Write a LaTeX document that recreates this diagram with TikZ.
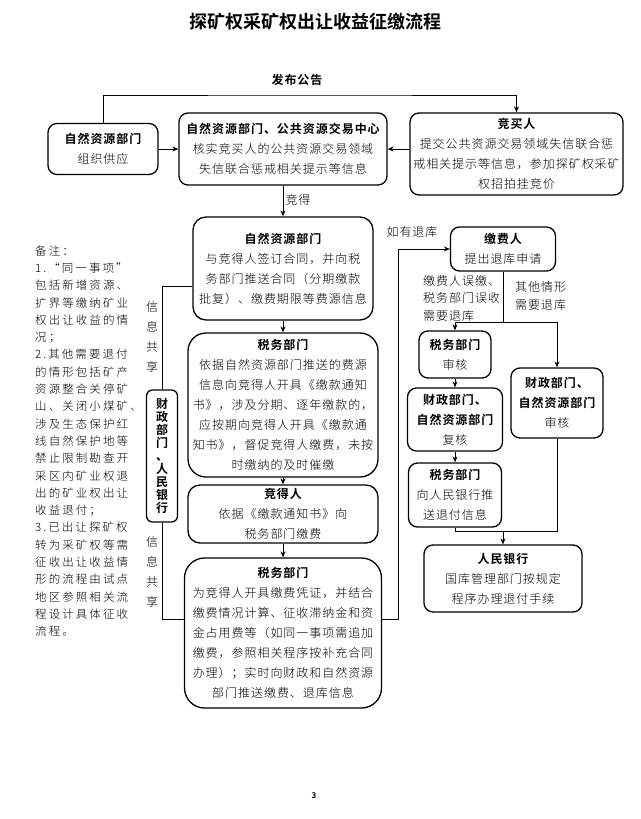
\documentclass[tikz,border=0pt]{standalone}
\usepackage{fontspec}
\setmainfont{Noto Sans CJK SC}[UprightFont={* Light}, BoldFont={* Bold}]
\usetikzlibrary{arrows.meta}

\begin{document}
\begin{tikzpicture}
        [x=1pt, y=-1pt, every node/.style={inner sep=0, align=center, font=\fontsize{12}{20}\selectfont\addfontfeatures{LetterSpace=8}},
         box/.style={draw, rounded corners=9pt, line width=1.3pt},
         conn/.style={line width=1pt, black},
         arr/.style={-{Stealth[length=6pt,width=5pt]}}]

        \useasboundingbox (0,0) rectangle (640,819);

        \node[font=\fontsize{18}{22}\selectfont\bfseries] (title) at (315,22) {探矿权采矿权出让收益征缴流程};
        \node (pub) at (297,80) {\bfseries 发布公告};

        \node[box, minimum width=110, minimum height=51] (supply) at (103,149) {{\bfseries 自然资源部门}\\组织供应};
        \node[box, minimum width=208, minimum height=72] (verify) at (283,149) {{\bfseries 自然资源部门、公共资源交易中心}\\核实竞买人的公共资源交易领域\\失信联合惩戒相关提示等信息};
        \node[box, minimum width=213, minimum height=82] (bidder) at (516.5,154) {{\bfseries 竞买人}\\提交公共资源交易领域失信联合惩\\戒相关提示等信息，参加探矿权采矿\\权招拍挂竞价};
        \node[box, rounded corners=13pt, minimum width=180, minimum height=103] (contract) at (283,268.5) {{\bfseries 自然资源部门}\\与竞得人签订合同，并向税\\务部门推送合同（分期缴款\\批复）、缴费期限等费源信息};
        \node[box, rounded corners=18pt, minimum width=190, minimum height=144] (notice) at (283,405) {{\bfseries 税务部门}\\依据自然资源部门推送的费源\\信息向竞得人开具《缴款通知\\书》，涉及分期、逐年缴款的，\\应按期向竞得人开具《缴款通\\知书》，督促竞得人缴费，未按\\时缴纳的及时催缴};
        \node[box, rounded corners=12pt, minimum width=190, minimum height=58] (winner) at (283,514) {{\bfseries 竞得人}\\依据《缴款通知书》向\\税务部门缴费};
        \node[box, rounded corners=20pt, minimum width=197, minimum height=150] (collect) at (283,633) {{\bfseries 税务部门}\\为竞得人开具缴费凭证，并结合\\缴费情况计算、征收滞纳金和资\\金占用费等（如同一事项需追加\\缴费，参照相关程序按补充合同\\办理）；实时向财政和自然资源\\部门推送缴费、退库信息};
        \node[box, rounded corners=6pt, minimum width=31, minimum height=132, font=\fontsize{12}{13}\selectfont\bfseries] (finbank) at (162,456) {财\\政\\部\\门\\、\\人\\民\\银\\行};

        \node[box, minimum width=105, minimum height=44] (applicant) at (503,249) {{\bfseries 缴费人}\\提出退库申请};
        \node[box, minimum width=72, minimum height=47] (taxaudit) at (455,354.5) {{\bfseries 税务部门}\\审核};
        \node[box, minimum width=95, minimum height=63] (recheck) at (455,419.5) {{\bfseries 财政部门、}\\{\bfseries 自然资源部门}\\复核};
        \node[box, minimum width=92, minimum height=70] (finaudit) at (557,403) {{\bfseries 财政部门、}\\{\bfseries 自然资源部门}\\审核};
        \node[box, minimum width=93, minimum height=64] (push) at (455,495) {{\bfseries 税务部门}\\向人民银行推\\送退付信息};
        \node[box, minimum width=158, minimum height=67] (pbc) at (503,578.5) {{\bfseries 人民银行}\\国库管理部门按规定\\程序办理退付手续};

        \node (won) at (298,200) {竞得};
        \node (share1) at (152,337) {信\\息\\共\\享};
        \node (share2) at (152,572) {信\\息\\共\\享};
        \node (refund) at (412,232) {如有退库};
        \node[anchor=west, align=left, font=\fontsize{12}{17.5}\selectfont\addfontfeatures{LetterSpace=8}] (wrong) at (423,298) {缴费人误缴、\\税务部门误收\\需要退库};
        \node[anchor=west, align=left, font=\fontsize{12}{18}\selectfont\addfontfeatures{LetterSpace=8}] (other) at (515,296) {其他情形\\需要退库};
        \node[anchor=west, align=left, font=\fontsize{11.5}{17.3}\selectfont\addfontfeatures{LetterSpace=18}] (notes) at (35,441) {备注：\\1.“同一事项”\\包括新增资源、\\扩界等缴纳矿业\\权出让收益的情\\况；\\2.其他需要退付\\的情形包括矿产\\资源整合关停矿\\山、关闭小煤矿、\\涉及生态保护红\\线自然保护地等\\禁止限制勘查开\\采区内矿业权退\\出的矿业权出让\\收益退付；\\3.已出让探矿权\\转为采矿权等需\\征收出让收益情\\形的流程由试点\\地区参照相关流\\程设计具体征收\\流程。};
        \node[font=\fontsize{8}{10}\selectfont\bfseries] (page) at (314,796) {3};

        \coordinate (top) at (310,95);
        \coordinate (back) at (398,249);
        \coordinate (split) at (503,322);
        \coordinate (join) at (503,531);

        \draw[conn, arr] (supply.north) |- (top) -| (bidder.north);
        \draw[conn, arr] (supply) -- (verify);
        \draw[conn, arr] (bidder.west |- verify) -- (verify);
        \draw[conn, arr] (verify) -- (contract);
        \draw[conn, arr] (contract) -- (notice);
        \draw[conn, arr] (notice) -- (winner);
        \draw[conn, arr] (winner) -- (collect);
        \draw[conn] (finbank.north) |- (contract.191);
        \draw[conn] (finbank.south) |- (collect.172);
        \draw[conn, arr] (collect.8) -| (back) -- (applicant.west);
        \draw[conn] (applicant) -- (split);
        \draw[conn, arr] (split) -| (taxaudit.north);
        \draw[conn, arr] (split) -| (finaudit.north);
        \draw[conn, arr] (taxaudit) -- (recheck);
        \draw[conn, arr] (recheck) -- (push);
        \draw[conn] (push) |- (join);
        \draw[conn] (finaudit) |- (join);
        \draw[conn, arr] (join) -- (pbc);
      \end{tikzpicture}
\end{document}
